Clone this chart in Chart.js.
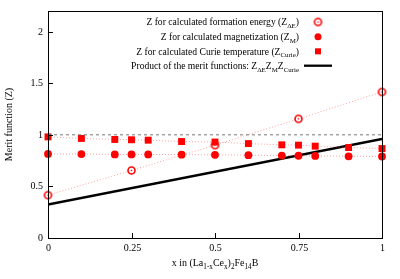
<!DOCTYPE html>
<html>
<head>
<meta charset="utf-8">
<script src="https://cdn.jsdelivr.net/npm/chart.js@4/dist/chart.umd.min.js"></script>
<style>
  html, body { margin: 0; padding: 0; background: #fff; }
  #wrap { width: 400px; height: 279px; }
</style>
</head>
<body>
<div id="wrap"><canvas id="chart" width="400" height="279"></canvas></div>
<script>
// data
var xFull = [0, 0.1, 0.2, 0.25, 0.3, 0.4, 0.5, 0.6, 0.7, 0.75, 0.8, 0.9, 1];
var zCurie = [0.98, 0.965, 0.955, 0.952, 0.948, 0.935, 0.93, 0.915, 0.903, 0.9, 0.89, 0.877, 0.867];
var zMag = [0.815, 0.813, 0.81, 0.81, 0.81, 0.808, 0.806, 0.803, 0.799, 0.797, 0.795, 0.792, 0.79];
var xForm = [0, 0.25, 0.5, 0.75, 1];
var zForm = [0.415, 0.655, 0.9, 1.155, 1.415];
var xProd = [0, 1];
var zProd = [0.325, 0.96];
var refLine = [1, 1];
var xTicks = [0, 0.25, 0.5, 0.75, 1];
var yTicks = [0, 0.5, 1, 1.5, 2];

var RED = '#ff0000';
var DOT = 'rgba(255, 90, 90, 0.55)';
var FONT = '"Liberation Serif", "Times New Roman", serif';

function pts(xs, ys) {
  return xs.map(function (x, i) { return { x: x, y: ys[i] }; });
}

// open circle with a small dot in the middle (gnuplot style)
function openCircle(r) {
  var c = document.createElement('canvas');
  var s = Math.ceil(r * 2 + 4);
  c.width = s; c.height = s;
  var g = c.getContext('2d');
  g.strokeStyle = RED;
  g.lineWidth = 1.6;
  g.beginPath(); g.arc(s / 2, s / 2, r, 0, Math.PI * 2); g.stroke();
  g.fillStyle = RED;
  g.beginPath(); g.arc(s / 2, s / 2, 0.8, 0, Math.PI * 2); g.fill();
  return c;
}
var ringImg = openCircle(3.5);

// text with subscripts: parts = [[text, isSub], ...]
function richWidth(ctx, parts, size) {
  var w = 0;
  parts.forEach(function (p) {
    ctx.font = (p[1] ? size * 0.72 : size) + 'px ' + FONT;
    w += ctx.measureText(p[0]).width;
  });
  return w;
}
function drawRich(ctx, parts, x, y, size, align) {
  var w = richWidth(ctx, parts, size);
  var cx = align === 'right' ? x - w : (align === 'center' ? x - w / 2 : x);
  ctx.textAlign = 'left';
  ctx.textBaseline = 'alphabetic';
  parts.forEach(function (p) {
    ctx.font = (p[1] ? size * 0.72 : size) + 'px ' + FONT;
    ctx.fillText(p[0], cx, p[1] ? y + size * 0.28 : y);
    cx += ctx.measureText(p[0]).width;
  });
}

var framePlugin = {
  id: 'frame',
  beforeDatasetsDraw: function (chart) {
    var ctx = chart.ctx, a = chart.chartArea;
    ctx.save();
    ctx.fillStyle = '#000';
    // axis titles
    drawRich(ctx, [['x in (La', 0], ['1-x', 1], ['Ce', 0], ['x', 1], [')', 0], ['2', 1], ['Fe', 0], ['14', 1], ['B', 0]],
      (a.left + a.right) / 2, 266, 10, 'center');
    ctx.save();
    ctx.translate(9, (a.top + a.bottom) / 2);
    ctx.rotate(-Math.PI / 2);
    ctx.textAlign = 'center';
    ctx.textBaseline = 'middle';
    ctx.font = '10px ' + FONT;
    ctx.fillText('Merit function (Z)', 0, 0);
    ctx.restore();

    // legend
    var textRight = 299, symX = 318;
    var rows = [
      [['Z for calculated formation energy (Z', 0], ['\u0394E', 1], [')', 0]],
      [['Z for calculated magnetization (Z', 0], ['M', 1], [')', 0]],
      [['Z for calculated Curie temperature (Z', 0], ['Curie', 1], [')', 0]],
      [['Product of the merit functions: Z', 0], ['\u0394E', 1], ['Z', 0], ['M', 1], ['Z', 0], ['Curie', 1]]
    ];
    var rowY = [22, 36.7, 51.3, 65.7];
    rows.forEach(function (r, i) {
      ctx.fillStyle = '#000';
      drawRich(ctx, r, textRight, rowY[i] + 3.3, 9.6, 'right');
    });
    ctx.drawImage(ringImg, symX - ringImg.width / 2, rowY[0] - ringImg.height / 2);
    ctx.fillStyle = RED;
    ctx.beginPath(); ctx.arc(symX, rowY[1], 3.5, 0, Math.PI * 2); ctx.fill();
    ctx.fillRect(symX - 3, rowY[2] - 3, 6, 6);
    ctx.strokeStyle = '#000';
    ctx.lineWidth = 2.3;
    ctx.beginPath(); ctx.moveTo(304, rowY[3]); ctx.lineTo(332, rowY[3]); ctx.stroke();
    ctx.restore();
  },
  afterDatasetsDraw: function (chart) {
    var ctx = chart.ctx, a = chart.chartArea;
    var xs = chart.scales.x, ys = chart.scales.y;
    ctx.save();
    ctx.strokeStyle = '#000';
    ctx.lineWidth = 1;
    ctx.strokeRect(a.left + 0.5, a.top + 0.5, a.right - a.left, a.bottom - a.top);
    ctx.fillStyle = '#000';
    ctx.font = '10px ' + FONT;
    // y ticks
    ctx.textAlign = 'right';
    ctx.textBaseline = 'middle';
    yTicks.forEach(function (v) {
      var py = Math.round(ys.getPixelForValue(v)) + 0.5;
      ctx.beginPath(); ctx.moveTo(a.left, py); ctx.lineTo(a.left + 5, py); ctx.stroke();
      ctx.fillText(String(v), a.left - 5, py);
    });
    // x ticks
    ctx.textAlign = 'center';
    ctx.textBaseline = 'top';
    xTicks.forEach(function (v) {
      var px = Math.round(xs.getPixelForValue(v)) + 0.5;
      ctx.beginPath(); ctx.moveTo(px, a.bottom); ctx.lineTo(px, a.bottom - 5); ctx.stroke();
      ctx.fillText(String(v), px, a.bottom + 5);
    });
    ctx.restore();
  }
};

new Chart(document.getElementById('chart').getContext('2d'), {
  type: 'scatter',
  data: {
    datasets: [
      {
        label: 'ref',
        data: pts(xProd, refLine),
        showLine: true,
        borderColor: '#777',
        borderWidth: 1,
        borderDash: [3, 3],
        pointRadius: 0
      },
      {
        label: 'Z for calculated formation energy',
        data: pts(xForm, zForm),
        showLine: true,
        clip: false,
        borderColor: DOT,
        borderWidth: 1,
        borderDash: [1, 2],
        pointStyle: ringImg,
        pointRadius: 4
      },
      {
        label: 'Z for calculated magnetization',
        data: pts(xFull, zMag),
        showLine: true,
        clip: false,
        borderColor: DOT,
        borderWidth: 1,
        borderDash: [1, 2],
        pointStyle: 'circle',
        pointRadius: 3.9,
        pointBackgroundColor: RED,
        pointBorderColor: RED,
        pointBorderWidth: 0
      },
      {
        label: 'Z for calculated Curie temperature',
        data: pts(xFull, zCurie),
        showLine: true,
        clip: false,
        borderColor: DOT,
        borderWidth: 1,
        borderDash: [1, 2],
        pointStyle: 'rect',
        pointRadius: 4.9,
        pointBackgroundColor: RED,
        pointBorderColor: RED,
        pointBorderWidth: 0
      },
      {
        label: 'Product of the merit functions',
        data: pts(xProd, zProd),
        showLine: true,
        borderColor: '#000',
        borderWidth: 2.5,
        pointRadius: 0
      }
    ]
  },
  options: {
    responsive: false,
    animation: false,
    layout: { padding: { left: 48, right: 18, top: 11, bottom: 41 } },
    plugins: { legend: { display: false }, tooltip: { enabled: false } },
    scales: {
      x: { type: 'linear', display: false, min: 0, max: 1 },
      y: { type: 'linear', display: false, min: 0, max: 2.2 }
    }
  },
  plugins: [framePlugin]
});
</script>
</body>
</html>
